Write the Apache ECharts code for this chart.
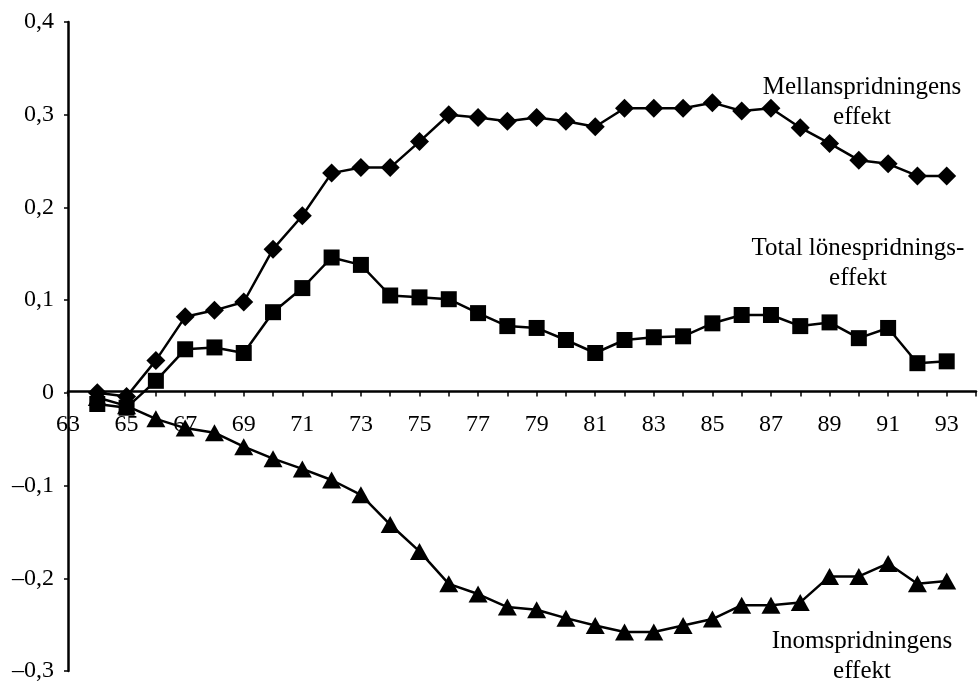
<!DOCTYPE html>
<html><head><meta charset="utf-8">
<script src="https://cdn.jsdelivr.net/npm/echarts@6/dist/echarts.min.js"></script>
<style>html,body{margin:0;padding:0;background:#fff}#c{width:978px;height:683px}</style>
</head><body><div id="c"></div>
<script>
const years = ['63','64','65','66','67','68','69','70','71','72','73','74','75','76','77','78','79','80','81','82','83','84','85','86','87','88','89','90','91','92','93','94'];
const mellan = [null,0,-0.004,0.035,0.082,0.089,0.098,0.155,0.191,0.237,0.243,0.243,0.271,0.300,0.297,0.293,0.297,0.293,0.287,0.307,0.307,0.307,0.313,0.304,0.307,0.286,0.269,0.251,0.247,0.234,0.234,null];
const total = [null,-0.012,-0.016,0.013,0.047,0.049,0.043,0.087,0.113,0.146,0.138,0.105,0.103,0.101,0.086,0.072,0.070,0.057,0.043,0.057,0.060,0.061,0.075,0.084,0.084,0.072,0.076,0.059,0.070,0.032,0.034,null];
const inom = [null,-0.005,-0.014,-0.028,-0.038,-0.043,-0.058,-0.071,-0.082,-0.094,-0.110,-0.142,-0.171,-0.206,-0.217,-0.231,-0.234,-0.243,-0.251,-0.258,-0.258,-0.251,-0.244,-0.229,-0.229,-0.226,-0.198,-0.198,-0.184,-0.206,-0.203,null];
const labelMellan = 'Mellanspridningens\neffekt';
const labelTotal = 'Total lönespridnings-\neffekt';
const labelInom = 'Inomspridningens\neffekt';
const yMin = -0.3, yMax = 0.4;

const font = '"Liberation Serif", "DejaVu Serif", serif';
const gridTop = 22, gridBottom = 9, H = 683;
const plotH = H - gridTop - gridBottom;
const zeroOffset = -plotH * (0 - yMin) / (yMax - yMin);
const chart = echarts.init(document.getElementById('c'));
const lineStyle = {color:'#000', width:2.5};
const itemStyle = {color:'#000'};
chart.setOption({
  animation:false,
  backgroundColor:'#fff',
  grid:{left:68, right:2, top:gridTop, bottom:gridBottom, containLabel:false},
  xAxis:{type:'category', data:years, boundaryGap:false, offset:zeroOffset,
    axisLine:{onZero:false, lineStyle:{color:'#000', width:2.5}},
    axisTick:{show:true, interval:0, length:5, lineStyle:{color:'#000', width:1.5}},
    axisLabel:{interval:1, color:'#000', fontFamily:font, fontSize:24, margin:21},
    splitLine:{show:false}},
  yAxis:{type:'value', min:yMin, max:yMax, interval:0.1,
    axisLine:{show:true, lineStyle:{color:'#000', width:2.5}},
    axisTick:{show:true, length:4, lineStyle:{color:'#000', width:1.5}},
    splitLine:{show:false},
    axisLabel:{color:'#000', fontFamily:font, fontSize:24, margin:14,
      formatter:v=>{ if (Math.abs(v)<1e-9) return '0'; const s=Math.abs(v).toFixed(1).replace('.',','); return (v<0?'–':'')+s; }}},
  graphic:[
    {type:'text', style:{text:labelMellan, x:862, y:72, font:'25px '+font, fill:'#000', align:'center', lineHeight:30}},
    {type:'text', style:{text:labelTotal, x:858, y:233, font:'25px '+font, fill:'#000', align:'center', lineHeight:30}},
    {type:'text', style:{text:labelInom, x:862, y:626, font:'25px '+font, fill:'#000', align:'center', lineHeight:30}}
  ],
  series:[
    {name:'Inom', type:'line', data:inom, symbol:'triangle', symbolSize:[19,17], showAllSymbol:true, lineStyle, itemStyle, z:2},
    {name:'Total', type:'line', data:total, symbol:'rect', symbolSize:16, showAllSymbol:true, lineStyle, itemStyle, z:3},
    {name:'Mellan', type:'line', data:mellan, symbol:'diamond', symbolSize:19, showAllSymbol:true, lineStyle, itemStyle, z:4}
  ]
});
</script></body></html>
